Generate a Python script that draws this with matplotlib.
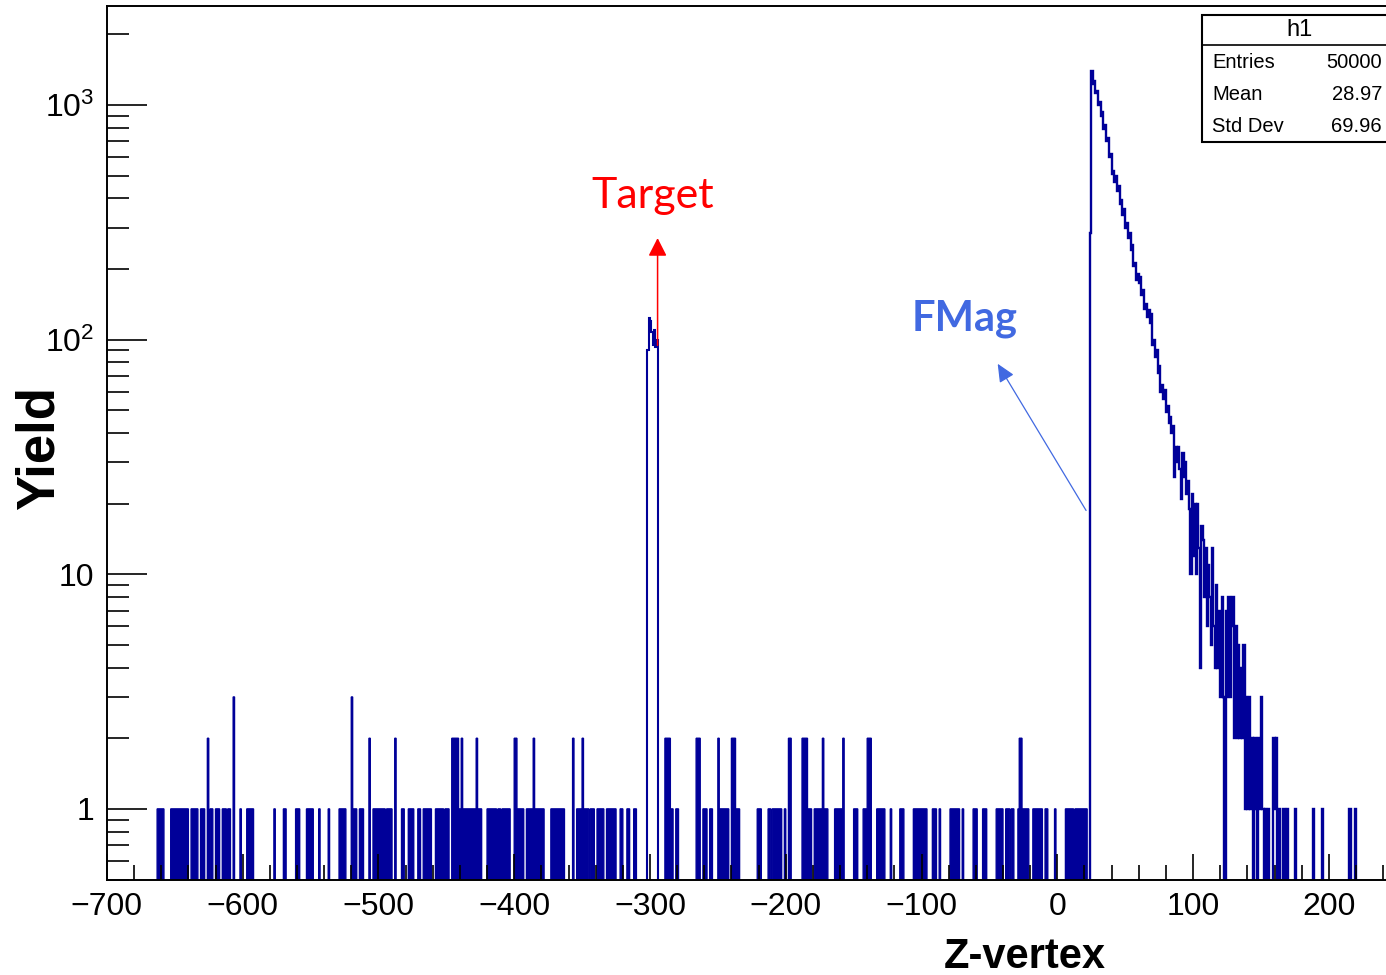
import numpy as np
import matplotlib
matplotlib.use("Agg")
import matplotlib.pyplot as plt
from matplotlib.patches import Rectangle
from matplotlib.lines import Line2D
from matplotlib.ticker import FixedLocator, MultipleLocator, LogLocator, NullFormatter

plt.rcParams['font.family'] = 'Liberation Sans'
plt.rcParams['mathtext.fontset'] = 'custom'
plt.rcParams['mathtext.rm'] = 'Liberation Sans'

# background entries upstream of FMag: (z from, z to, entries per bin), 1 cm bins
bkg_runs = [
    (-663, -658, 1), (-653, -640, 1), (-638, -633, 1), (-631, -628, 1), (-626, -625, 2),
    (-624, -622, 1), (-620, -617, 1), (-615, -612, 1), (-611, -609, 1), (-607, -606, 3),
    (-602, -601, 1), (-597, -592, 1), (-577, -576, 1), (-570, -568, 1), (-561, -558, 1),
    (-553, -548, 1), (-544, -543, 1), (-537, -536, 1), (-529, -524, 1), (-520, -519, 3),
    (-519, -516, 1), (-514, -511, 1), (-507, -506, 2), (-504, -495, 1), (-494, -490, 1),
    (-488, -487, 2), (-483, -481, 1), (-478, -474, 1), (-471, -469, 1), (-467, -461, 1),
    (-458, -452, 1), (-451, -448, 1), (-446, -441, 2), (-441, -439, 1), (-439, -438, 2),
    (-438, -428, 1), (-428, -427, 2), (-427, -424, 1), (-420, -413, 1), (-412, -410, 1),
    (-409, -403, 1), (-400, -398, 2), (-398, -393, 1), (-391, -386, 1), (-386, -385, 2),
    (-385, -378, 1), (-373, -363, 1), (-357, -356, 2), (-354, -350, 1), (-350, -349, 2),
    (-349, -345, 1), (-344, -341, 1), (-339, -334, 1), (-332, -325, 1), (-322, -320, 1),
    (-317, -315, 1), (-312, -310, 1), (-289, -285, 2), (-285, -283, 1), (-281, -279, 1),
    (-266, -263, 2), (-261, -258, 1), (-256, -254, 1), (-250, -249, 2), (-249, -242, 1),
    (-240, -237, 2), (-237, -234, 1), (-221, -218, 1), (-213, -211, 1), (-210, -203, 1),
    (-201, -200, 1), (-198, -196, 2), (-188, -184, 2), (-184, -181, 1), (-179, -173, 1),
    (-173, -172, 2), (-172, -169, 1), (-164, -158, 1), (-158, -157, 2), (-150, -147, 1),
    (-143, -140, 1), (-140, -137, 2), (-133, -127, 1), (-123, -122, 1), (-116, -113, 1),
    (-106, -96, 1), (-92, -89, 1), (-87, -86, 1), (-79, -72, 1), (-70, -69, 1),
    (-62, -59, 1), (-55, -52, 1), (-45, -40, 1), (-38, -35, 1), (-34, -32, 1),
    (-29, -28, 1), (-28, -26, 2), (-26, -21, 1), (-18, -11, 1), (-9, -7, 1),
    (-2, -1, 1), (6, 12, 1), (13, 22, 1),
]

# target peak, 1 cm bins from -302
target_lo = -302
target_counts = [90, 124, 120, 108, 95, 110, 93, 100]

# FMag peak, 1 cm bins from 24
fmag_lo = 24
fmag_counts = [
    284, 1400, 1230, 1260, 1120, 1150, 1000, 1030, 900, 930,
    790, 820, 700, 720, 600, 620, 510, 525, 470, 500,
    430, 450, 380, 395, 340, 360, 300, 315, 270, 285,
    240, 252, 205, 212, 180, 190, 175, 185, 155, 162,
    135, 142, 125, 134, 118, 128, 95, 100, 84, 90,
    72, 77, 60, 64, 56, 61, 49, 52, 44, 47,
    40, 43, 26, 35, 30, 35, 28, 21, 33, 26,
    30, 22, 25, 19, 10, 22, 12, 20, 10, 20,
    13, 4, 16, 14, 8, 13, 6, 11, 8, 5,
    13, 6, 4, 9, 4, 7, 3, 8, 3, 0,
    7, 3, 8, 3, 6, 8, 2, 6, 2, 5,
    2, 4, 2, 5, 1, 3, 1, 3, 1, 2,
    0, 2, 1, 0, 2, 1, 3, 1, 0, 1,
    0, 1, 0, 0, 0, 2, 1, 2, 0, 1,
    0, 0, 1, 1, 0, 1,
]
# single entries further downstream
tail_z = [175, 188, 195, 215, 219]

stats_entries = 50000
stats_mean = 28.97
stats_std = 69.96

x_ticks = [-700, -600, -500, -400, -300, -200, -100, 0, 100, 200]
y_ticks = [1, 10, 100, 1000]
y_labels = ['1', '10', r'$\mathregular{10^{2}}$', r'$\mathregular{10^{3}}$']

W, H = 1386, 975
navy = '#000099'
fmag_blue = '#4169E1'


def fx(x):
    return x / W


def fy(y):
    return 1 - y / H


fig = plt.figure(figsize=(W / 100, H / 100), dpi=100)
ax = fig.add_axes([fx(106.9), fy(879.5), 950 * 1.3577 / W, (879.5 - 5.7) / H])

# histogram contents
bkg_edges = np.arange(-700, 25)
bkg = np.zeros(len(bkg_edges) - 1)
for lo, hi, n in bkg_runs:
    bkg[lo + 700:hi + 700] = n

tgt_edges = np.arange(target_lo, target_lo + len(target_counts) + 1)

fm = np.zeros(220 - fmag_lo)
fm[:len(fmag_counts)] = fmag_counts
for z in tail_z:
    fm[z - fmag_lo] += 1
fm_edges = np.arange(fmag_lo, 221)

ax.stairs(np.where(bkg > 0, bkg, 0.1), bkg_edges, baseline=0.1, fill=True,
          facecolor=navy, edgecolor=navy, linewidth=1.0)
ax.stairs(np.array(target_counts, float), tgt_edges, baseline=0.1,
          edgecolor=navy, linewidth=1.5)
ax.stairs(np.where(fm > 0, fm, 0.1), fm_edges, baseline=0.1,
          edgecolor=navy, linewidth=1.7)

ax.set_yscale('log')
ax.set_xlim(-700, 250)
ax.set_ylim(0.5, 2650)

ax.xaxis.set_major_locator(FixedLocator(x_ticks))
ax.set_xticklabels([str(v).replace('-', '\u2212') for v in x_ticks])
ax.xaxis.set_minor_locator(MultipleLocator(20))
ax.yaxis.set_major_locator(FixedLocator(y_ticks))
ax.set_yticklabels(y_labels)
ax.yaxis.set_minor_locator(LogLocator(base=10, subs=np.arange(2, 10)))
ax.yaxis.set_minor_formatter(NullFormatter())

ax.tick_params(which='both', direction='in', top=False, right=False, width=1.2,
               labelsize=23)
ax.tick_params(axis='x', which='major', length=18.5, pad=9)
ax.tick_params(axis='x', which='minor', length=10.5)
ax.tick_params(axis='y', which='major', length=28.5, pad=9)
ax.tick_params(axis='y', which='minor', length=16)
for s in ax.spines.values():
    s.set_linewidth(1.4)

# annotations
ax.annotate('', xy=(-294.4, 271), xytext=(-294.4, 94.5),
            arrowprops=dict(arrowstyle='-|>,head_length=0.55,head_width=0.28',
                            color='red', lw=1.1, mutation_scale=20,
                            shrinkA=0, shrinkB=0))
ax.annotate('', xy=(-43.9, 78.9), xytext=(21.2, 18.7),
            arrowprops=dict(arrowstyle='-|>,head_length=0.55,head_width=0.25',
                            color=fmag_blue, lw=0.9, mutation_scale=20,
                            shrinkA=0, shrinkB=0))

fig.text(fx(653), fy(208), 'Target', color='red', fontsize=31, family='Lato',
         ha='center', va='baseline')
fig.text(fx(965), fy(330), 'FMag', color=fmag_blue, fontsize=30, family='Lato',
         fontweight='bold', ha='center', va='baseline')

fig.text(fx(40), fy(448), 'Yield', rotation=90, fontsize=38, fontweight='bold',
         ha='center', va='center')
fig.text(fx(1025), fy(968), 'Z-vertex', fontsize=30, fontweight='bold',
         ha='center', va='baseline')

# stats box
box = Rectangle((fx(1202), fy(142)), fx(1400 - 1202), (142 - 15) / H,
                transform=fig.transFigure, facecolor='white', edgecolor='black',
                linewidth=1.5, zorder=5)
fig.add_artist(box)
fig.add_artist(Line2D([fx(1202), fx(1400)], [fy(45), fy(45)],
                      transform=fig.transFigure, color='black', lw=1.2, zorder=6))
fig.text(fx(1299), fy(30), 'h1', fontsize=17, ha='center', va='center', zorder=7)
rows = [('Entries', f'{stats_entries}'), ('Mean', f'{stats_mean:.2f}'),
        ('Std Dev', f'{stats_std:.2f}')]
for i, (name, val) in enumerate(rows):
    yy = 63 + i * 31.7
    fig.text(fx(1212), fy(yy), name, fontsize=14.5, ha='left', va='center', zorder=7)
    fig.text(fx(1382), fy(yy), val, fontsize=14.5, ha='right', va='center', zorder=7)

fig.savefig('out.png', dpi=100)
